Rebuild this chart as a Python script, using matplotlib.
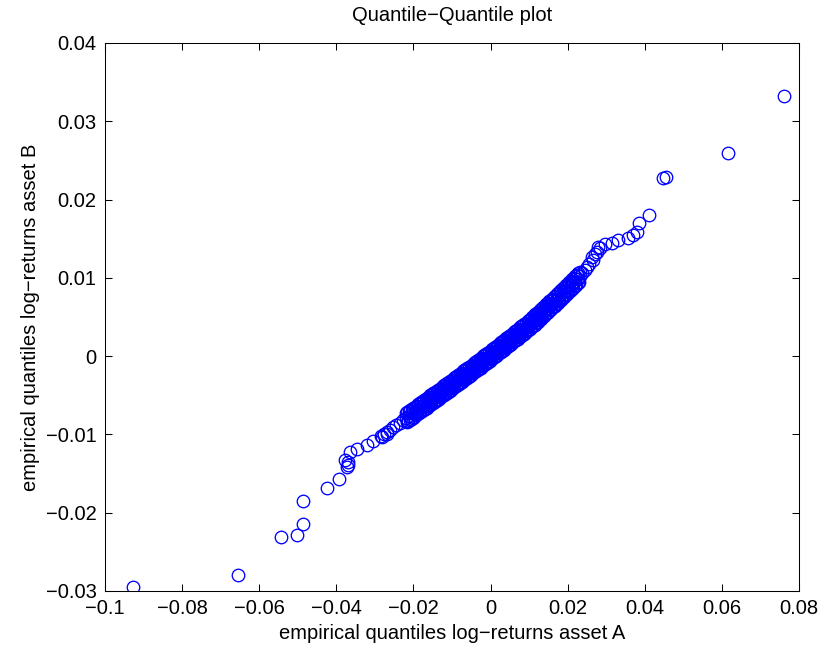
import numpy as np
import matplotlib
matplotlib.use("Agg")
import matplotlib.pyplot as plt

# lower tail, read one by one
tail_lo_x = [-0.0927, -0.0655, -0.0544, -0.0503, -0.0487, -0.0486, -0.0425, -0.0392,
             -0.0378, -0.0373, -0.0370, -0.0369, -0.0365, -0.0347, -0.0321, -0.0304,
             -0.0282, -0.0269]
tail_lo_y = [-0.0295, -0.0280, -0.0231, -0.0228, -0.0214, -0.0185, -0.0168, -0.0157,
             -0.0133, -0.0141, -0.0139, -0.0135, -0.0122, -0.0118, -0.0114, -0.0109,
             -0.0103, -0.0099]

# lower part of the band (centre line)
band_lo_x = [-0.0284, -0.0276, -0.0268, -0.0260, -0.0252, -0.0244, -0.0236, -0.0228,
             -0.0220, -0.0212, -0.0204, -0.0196, -0.0188, -0.0180, -0.0172, -0.0164]
band_lo_y = [-0.0102, -0.0099, -0.0097, -0.0094, -0.0091, -0.0088, -0.0085, -0.0082,
             -0.0079, -0.0076, -0.0073, -0.0071, -0.0068, -0.0065, -0.0062, -0.0059]

band_mid_lo_x = [-0.0160, -0.0156, -0.0152, -0.0148, -0.0144, -0.0140, -0.0136, -0.0132,
                 -0.0128, -0.0124, -0.0120, -0.0116, -0.0112, -0.0108, -0.0104, -0.0100,
                 -0.0096, -0.0092, -0.0088, -0.0084]
band_mid_lo_y = [-0.0058, -0.0056, -0.0055, -0.0053, -0.0052, -0.0050, -0.0049, -0.0048,
                 -0.0046, -0.0045, -0.0043, -0.0042, -0.0040, -0.0039, -0.0037, -0.0036,
                 -0.0035, -0.0033, -0.0032, -0.0030]

# dense core (centre line)
core_x = [-0.0080, -0.0078, -0.0076, -0.0074, -0.0072, -0.0070, -0.0068, -0.0066,
          -0.0064, -0.0062, -0.0060, -0.0058, -0.0056, -0.0054, -0.0052, -0.0050,
          -0.0048, -0.0046, -0.0044, -0.0042, -0.0040, -0.0038, -0.0036, -0.0034,
          -0.0032, -0.0030, -0.0028, -0.0026, -0.0024, -0.0022, -0.0020, -0.0018,
          -0.0016, -0.0014, -0.0012, -0.0010, -0.0008, -0.0006, -0.0004, -0.0002,
          0.0000, 0.0002, 0.0004, 0.0006, 0.0008, 0.0010, 0.0012, 0.0014,
          0.0016, 0.0018, 0.0020, 0.0022, 0.0024, 0.0026, 0.0028, 0.0030,
          0.0032, 0.0034, 0.0036, 0.0038, 0.0040, 0.0042, 0.0044, 0.0046,
          0.0048, 0.0050, 0.0052, 0.0054, 0.0056, 0.0058, 0.0060, 0.0062,
          0.0064, 0.0066, 0.0068, 0.0070, 0.0072, 0.0074, 0.0076, 0.0078, 0.0080]
core_y = [-0.00286, -0.00279, -0.00271, -0.00264, -0.00256, -0.00249, -0.00242, -0.00234,
          -0.00227, -0.00219, -0.00212, -0.00205, -0.00197, -0.00190, -0.00182, -0.00175,
          -0.00168, -0.00160, -0.00153, -0.00145, -0.00138, -0.00131, -0.00123, -0.00116,
          -0.00108, -0.00101, -0.00094, -0.00086, -0.00079, -0.00071, -0.00064, -0.00057,
          -0.00049, -0.00042, -0.00034, -0.00027, -0.00020, -0.00012, -0.00005, 0.00003,
          0.00010, 0.00018, 0.00026, 0.00033, 0.00041, 0.00049, 0.00057, 0.00065,
          0.00072, 0.00080, 0.00088, 0.00096, 0.00104, 0.00111, 0.00119, 0.00127,
          0.00135, 0.00143, 0.00150, 0.00158, 0.00166, 0.00174, 0.00182, 0.00189,
          0.00197, 0.00205, 0.00213, 0.00221, 0.00228, 0.00236, 0.00244, 0.00252,
          0.00260, 0.00267, 0.00275, 0.00283, 0.00291, 0.00299, 0.00306, 0.00314, 0.00322]

band_mid_hi_x = [0.0084, 0.0088, 0.0092, 0.0096, 0.0100, 0.0104, 0.0108, 0.0112,
                 0.0116, 0.0120, 0.0124, 0.0128, 0.0132, 0.0136, 0.0140, 0.0144,
                 0.0148, 0.0152, 0.0156, 0.0160]
band_mid_hi_y = [0.00338, 0.00353, 0.00369, 0.00384, 0.00400, 0.00418, 0.00437, 0.00455,
                 0.00474, 0.00492, 0.00510, 0.00529, 0.00547, 0.00566, 0.00584, 0.00602,
                 0.00621, 0.00639, 0.00658, 0.00676]

band_hi_x = [0.0166, 0.0172, 0.0178, 0.0184, 0.0190, 0.0196, 0.0202, 0.0208,
             0.0214, 0.0220, 0.0226, 0.0232, 0.0238, 0.0244, 0.0250, 0.0256]
band_hi_y = [0.00705, 0.00734, 0.00763, 0.00791, 0.00820, 0.00849, 0.00877, 0.00906,
             0.00934, 0.00963, 0.00991, 0.01020, 0.0106, 0.0110, 0.0114, 0.0118]

# upper edge of the thick band
edge_up_x = [-0.0220, -0.0216, -0.0212, -0.0208, -0.0204, -0.0200, -0.0196, -0.0192,
             -0.0188, -0.0184, -0.0180, -0.0176, -0.0172, -0.0168, -0.0164, -0.0160,
             -0.0156, -0.0152, -0.0148, -0.0144, -0.0140, -0.0136, -0.0132, -0.0128,
             -0.0124, -0.0120, -0.0116, -0.0112, -0.0108, -0.0104, -0.0100,
             -0.0096, -0.0092, -0.0088, -0.0084, -0.0080, -0.0076, -0.0072, -0.0068,
             -0.0064, -0.0060, -0.0056, -0.0052, -0.0048, -0.0044, -0.0040, -0.0036,
             -0.0032, -0.0028, -0.0024, -0.0020, -0.0016, -0.0012, -0.0008, -0.0004, 0.0000,
             0.0004, 0.0008, 0.0012, 0.0016, 0.0020, 0.0024, 0.0028, 0.0032,
             0.0036, 0.0040, 0.0044, 0.0048, 0.0052, 0.0056, 0.0060, 0.0064,
             0.0068, 0.0072, 0.0076, 0.0080, 0.0084, 0.0088, 0.0092, 0.0096, 0.0100,
             0.0104, 0.0108, 0.0112, 0.0116, 0.0120, 0.0124, 0.0128, 0.0132,
             0.0136, 0.0140, 0.0144, 0.0148, 0.0152, 0.0156, 0.0160,
             0.0164, 0.0168, 0.0172, 0.0176, 0.0180, 0.0184, 0.0188, 0.0192,
             0.0196, 0.0200, 0.0204, 0.0208, 0.0212, 0.0216, 0.0220, 0.0224, 0.0228, 0.0232]
edge_up_y = [-0.00732, -0.00718, -0.00703, -0.00689, -0.00674, -0.00660, -0.00646, -0.00631,
             -0.00617, -0.00602, -0.00588, -0.00574, -0.00559, -0.00545, -0.00530, -0.00516,
             -0.00502, -0.00487, -0.00473, -0.00458, -0.00444, -0.00430, -0.00415, -0.00401,
             -0.00386, -0.00372, -0.00358, -0.00343, -0.00329, -0.00314, -0.00300,
             -0.00285, -0.00270, -0.00256, -0.00241, -0.00226, -0.00211, -0.00196, -0.00182,
             -0.00167, -0.00152, -0.00137, -0.00122, -0.00108, -0.00093, -0.00078, -0.00063,
             -0.00048, -0.00034, -0.00019, -0.00004, 0.00011, 0.00026, 0.00040, 0.00055, 0.00070,
             0.00086, 0.00101, 0.00117, 0.00132, 0.00148, 0.00164, 0.00179, 0.00195,
             0.00210, 0.00226, 0.00242, 0.00257, 0.00273, 0.00288, 0.00304, 0.00320,
             0.00335, 0.00351, 0.00366, 0.00382, 0.00398, 0.00413, 0.00429, 0.00444, 0.00460,
             0.00478, 0.00497, 0.00515, 0.00534, 0.00552, 0.00570, 0.00589, 0.00607,
             0.00626, 0.00644, 0.00662, 0.00681, 0.00699, 0.00718, 0.00736,
             0.00755, 0.00774, 0.00793, 0.00812, 0.00831, 0.00851, 0.00870, 0.00889,
             0.00908, 0.00927, 0.00946, 0.00965, 0.00984, 0.01003, 0.01022, 0.01041, 0.01060, 0.01079]

# lower edge of the thick band
edge_dn_x = [-0.0218, -0.0214, -0.0210, -0.0206, -0.0202, -0.0198, -0.0194, -0.0190,
             -0.0186, -0.0182, -0.0178, -0.0174, -0.0170, -0.0166, -0.0162, -0.0158,
             -0.0154, -0.0150, -0.0146, -0.0142, -0.0138, -0.0134, -0.0130, -0.0126,
             -0.0122, -0.0118, -0.0114, -0.0110, -0.0106, -0.0102,
             -0.0098, -0.0094, -0.0090, -0.0086, -0.0082, -0.0078, -0.0074, -0.0070,
             -0.0066, -0.0062, -0.0058, -0.0054, -0.0050, -0.0046, -0.0042, -0.0038,
             -0.0034, -0.0030, -0.0026, -0.0022, -0.0018, -0.0014, -0.0010, -0.0006, -0.0002,
             0.0002, 0.0006, 0.0010, 0.0014, 0.0018, 0.0022, 0.0026, 0.0030,
             0.0034, 0.0038, 0.0042, 0.0046, 0.0050, 0.0054, 0.0058, 0.0062,
             0.0066, 0.0070, 0.0074, 0.0078, 0.0082, 0.0086, 0.0090, 0.0094, 0.0098,
             0.0102, 0.0106, 0.0110, 0.0114, 0.0118, 0.0122, 0.0126, 0.0130,
             0.0134, 0.0138, 0.0142, 0.0146, 0.0150, 0.0154, 0.0158,
             0.0162, 0.0166, 0.0170, 0.0174, 0.0178, 0.0182, 0.0186, 0.0190,
             0.0194, 0.0198, 0.0202, 0.0206, 0.0210, 0.0214, 0.0218, 0.0222, 0.0226, 0.0230]
edge_dn_y = [-0.00845, -0.00830, -0.00816, -0.00802, -0.00787, -0.00773, -0.00758, -0.00744,
             -0.00730, -0.00715, -0.00701, -0.00686, -0.00672, -0.00658, -0.00643, -0.00629,
             -0.00614, -0.00600, -0.00586, -0.00571, -0.00557, -0.00542, -0.00528, -0.00514,
             -0.00499, -0.00485, -0.00470, -0.00456, -0.00442, -0.00427,
             -0.00413, -0.00398, -0.00383, -0.00368, -0.00353, -0.00339, -0.00324, -0.00309,
             -0.00294, -0.00279, -0.00265, -0.00250, -0.00235, -0.00220, -0.00205, -0.00191,
             -0.00176, -0.00161, -0.00146, -0.00131, -0.00117, -0.00102, -0.00087, -0.00072, -0.00057,
             -0.00042, -0.00027, -0.00011, 0.00005, 0.00020, 0.00036, 0.00051, 0.00067,
             0.00083, 0.00098, 0.00114, 0.00129, 0.00145, 0.00161, 0.00176, 0.00192,
             0.00207, 0.00223, 0.00239, 0.00254, 0.00270, 0.00285, 0.00301, 0.00317, 0.00332,
             0.00349, 0.00368, 0.00386, 0.00404, 0.00423, 0.00441, 0.00460, 0.00478,
             0.00496, 0.00515, 0.00533, 0.00552, 0.00570, 0.00588, 0.00607,
             0.00626, 0.00645, 0.00664, 0.00683, 0.00702, 0.00721, 0.00740, 0.00759,
             0.00778, 0.00797, 0.00816, 0.00835, 0.00855, 0.00874, 0.00893, 0.00912, 0.00931, 0.00950]

# upper tail
tail_hi_x = [0.0262, 0.0266, 0.0270, 0.0275, 0.0278, 0.0284, 0.0297, 0.0314, 0.0331,
             0.0357, 0.0370, 0.0379, 0.0386, 0.0411, 0.0446, 0.0455, 0.0617, 0.0762]
tail_hi_y = [0.0127, 0.0123, 0.0130, 0.0133, 0.0140, 0.0138, 0.0143, 0.0145, 0.0148,
             0.0151, 0.0155, 0.0159, 0.0170, 0.0180, 0.0227, 0.0229, 0.0259, 0.0332]

xticks = [-0.1, -0.08, -0.06, -0.04, -0.02, 0, 0.02, 0.04, 0.06, 0.08]
xtick_labels = ['\u22120.1', '\u22120.08', '\u22120.06', '\u22120.04', '\u22120.02',
                '0', '0.02', '0.04', '0.06', '0.08']
yticks = [-0.03, -0.02, -0.01, 0, 0.01, 0.02, 0.03, 0.04]
ytick_labels = ['\u22120.03', '\u22120.02', '\u22120.01', '0', '0.01', '0.02', '0.03', '0.04']

qx = np.concatenate([tail_lo_x, band_lo_x, band_mid_lo_x, core_x, band_mid_hi_x,
                     band_hi_x, edge_up_x, edge_dn_x, tail_hi_x])
qy = np.concatenate([tail_lo_y, band_lo_y, band_mid_lo_y, core_y, band_mid_hi_y,
                     band_hi_y, edge_up_y, edge_dn_y, tail_hi_y])

plt.rcParams['font.family'] = ['Liberation Sans', 'DejaVu Sans']
fig = plt.figure(figsize=(8.25, 6.52), dpi=100)
ax = fig.add_axes([105 / 825, 61 / 652, 694 / 825, 548 / 652])

ax.plot(qx, qy, 'o', color='#0000ff', markerfacecolor='none', markersize=9, markeredgewidth=0.95)

ax.set_xlim(-0.1, 0.08)
ax.set_ylim(-0.03, 0.04)
ax.set_xticks(xticks)
ax.set_xticklabels(xtick_labels)
ax.set_yticks(yticks)
ax.set_yticklabels(ytick_labels)
ax.tick_params(direction='in', top=True, right=True, length=5, width=0.75,
               labelsize=14.5, pad=6)
for s in ax.spines.values():
    s.set_linewidth(0.75)

ax.set_title('Quantile\u2212Quantile plot', fontsize=14.5, pad=16)
ax.set_xlabel('empirical quantiles log\u2212returns asset A', fontsize=14.5, labelpad=4)
ax.set_ylabel('empirical quantiles log\u2212returns asset B', fontsize=14.5, labelpad=4)

fig.savefig('out.png', dpi=100)
